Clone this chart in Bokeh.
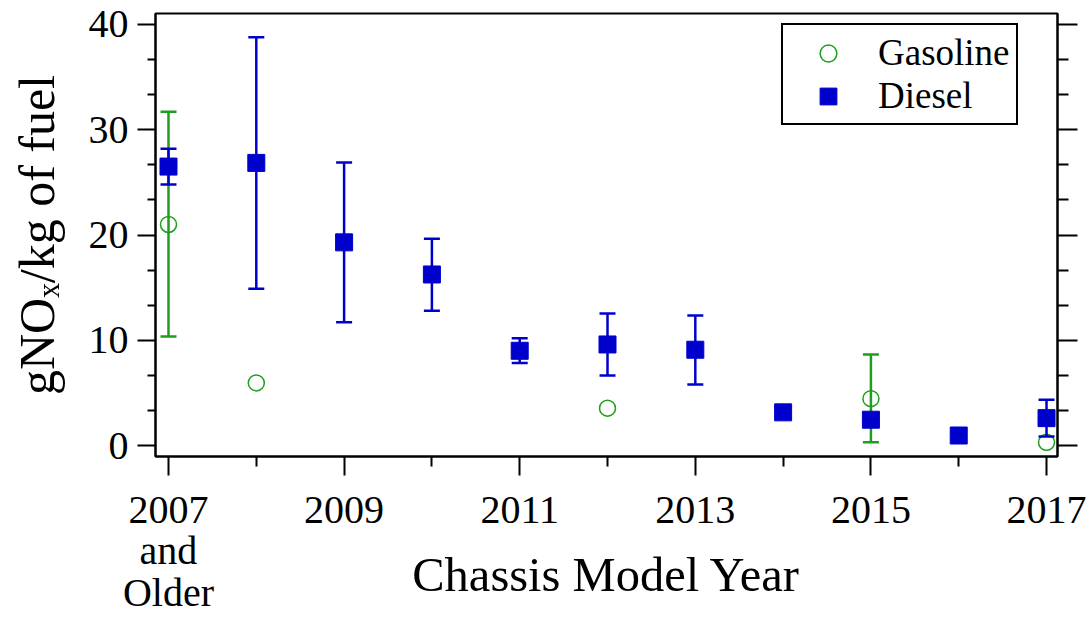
from bokeh.plotting import figure
from bokeh.models import (FixedTicker, LinearAxis, Range1d, Legend, LegendItem)
from bokeh.embed import file_html
from bokeh.resources import INLINE

# ---------------- data ----------------
years = [2007, 2008, 2009, 2010, 2011, 2012, 2013, 2014, 2015, 2016, 2017]
diesel = [26.5, 26.85, 19.3, 16.25, 9.0, 9.6, 9.1, 3.15, 2.45, 0.95, 2.6]
diesel_lo = [24.8, 14.9, 11.7, 12.8, 7.85, 6.65, 5.8, None, None, None, 0.85]
diesel_hi = [28.2, 38.8, 26.9, 19.65, 10.2, 12.55, 12.35, None, None, None, 4.35]

gas_years = [2007, 2008, 2012, 2015, 2017]
gasoline = [21.0, 5.95, 3.55, 4.45, 0.3]
gas_lo = [10.35, None, None, 0.3, None]
gas_hi = [31.7, None, None, 8.65, None]

x_major = [2007, 2009, 2011, 2013, 2015, 2017]
x_minor = [2008, 2010, 2012, 2014, 2016]
x_labels = {2007: "2007\nand\nOlder", 2009: "2009", 2011: "2011", 2013: "2013",
            2015: "2015", 2017: "2017"}
y_major = [0, 10, 20, 30, 40]

FONT = "Liberation Serif"
BLUE = "#0000CC"
GREEN = "#1E9E1E"

p = figure(width=1090, height=617, output_backend="svg", toolbar_location=None,
           x_range=Range1d(2006.852, 2017.125), y_range=Range1d(-1.045, 41.045),
           min_border_left=155, min_border_top=13, min_border_right=33, min_border_bottom=161,
           background_fill_color="white", border_fill_color="white")
p.xgrid.visible = False
p.ygrid.visible = False
p.outline_line_color = "black"
p.outline_line_width = 2
p.outline_line_alpha = 1

y_minor = []
for a, b in zip(y_major[:-1], y_major[1:]):
    y_minor += [a + (b - a) / 3, a + 2 * (b - a) / 3]

# bottom axis
xa = p.xaxis[0]
xa.ticker = FixedTicker(ticks=x_major, minor_ticks=x_minor)
xa.major_label_overrides = x_labels
xa.axis_line_width = 2
xa.major_tick_line_width = 2
xa.minor_tick_line_width = 2
xa.major_tick_out = 19
xa.major_tick_in = 0
xa.minor_tick_out = 10
xa.minor_tick_in = 0
xa.major_label_text_font = FONT
xa.major_label_text_font_size = "40px"
xa.major_label_text_color = "black"
xa.major_label_text_line_height = 0.93
xa.major_label_standoff = 11
xa.axis_label = "Chassis Model Year"
xa.axis_label_text_font = FONT
xa.axis_label_text_font_size = "48.5px"
xa.axis_label_text_font_style = "normal"
xa.axis_label_text_color = "black"
xa.axis_label_standoff = -70

# left axis
ya = p.yaxis[0]
ya.ticker = FixedTicker(ticks=y_major, minor_ticks=y_minor)
ya.axis_line_width = 2
ya.major_tick_line_width = 2
ya.minor_tick_line_width = 2
ya.major_tick_out = 18
ya.major_tick_in = 0
ya.minor_tick_out = 8
ya.minor_tick_in = 0
ya.major_label_text_font = FONT
ya.major_label_text_font_size = "40px"
ya.major_label_text_color = "black"
ya.major_label_standoff = 9
ya.axis_label = "gNO\u2093/kg of fuel"
ya.axis_label_text_font = FONT
ya.axis_label_text_font_size = "50px"
ya.axis_label_text_font_style = "normal"
ya.axis_label_text_color = "black"
ya.axis_label_standoff = 21

# right axis (ticks only)
ra = LinearAxis(ticker=FixedTicker(ticks=y_major, minor_ticks=y_minor))
ra.axis_line_width = 2
ra.major_tick_line_width = 2
ra.minor_tick_line_width = 2
ra.major_tick_out = 20
ra.major_tick_in = 0
ra.minor_tick_out = 11
ra.minor_tick_in = 0
ra.major_label_overrides = {t: "" for t in y_major}
ra.major_label_standoff = 0
p.add_layout(ra, "right")

# error bars
def bars(xs, lo, hi):
    bx, bl, bh = [], [], []
    for x, l, h in zip(xs, lo, hi):
        if l is not None:
            bx.append(x); bl.append(l); bh.append(h)
    return bx, bl, bh

gx, gl, gh = bars(gas_years, gas_lo, gas_hi)
dx, dl, dh = bars(years, diesel_lo, diesel_hi)

p.segment(x0=gx, y0=gl, x1=gx, y1=gh, line_color=GREEN, line_width=2.5)
p.scatter(x=gx + gx, y=gl + gh, marker="dash", size=16, line_color=GREEN, line_width=2.5)
g_r = p.scatter(x=gas_years, y=gasoline, marker="circle", size=16, fill_color=None,
                line_color=GREEN, line_width=1.5)

p.segment(x0=dx, y0=dl, x1=dx, y1=dh, line_color=BLUE, line_width=2.5)
p.scatter(x=dx + dx, y=dl + dh, marker="dash", size=16, line_color=BLUE, line_width=2.5)
d_r = p.scatter(x=years, y=diesel, marker="square", size=17, fill_color=BLUE,
                line_color=BLUE, line_width=1)

legend = Legend(items=[LegendItem(label="Gasoline", renderers=[g_r]),
                       LegendItem(label="Diesel", renderers=[d_r])],
                location=(626, 331))
legend.label_text_font = FONT
legend.label_text_font_size = "37px"
legend.label_text_color = "black"
legend.glyph_width = 78
legend.glyph_height = 42
legend.label_height = 42
legend.label_standoff = 11
legend.spacing = 0
legend.padding = 6
legend.margin = 0
legend.border_line_color = "black"
legend.border_line_width = 2
legend.border_line_alpha = 1
legend.background_fill_color = "white"
legend.background_fill_alpha = 1
p.add_layout(legend)

open("out.html", "w").write(file_html(p, INLINE))
